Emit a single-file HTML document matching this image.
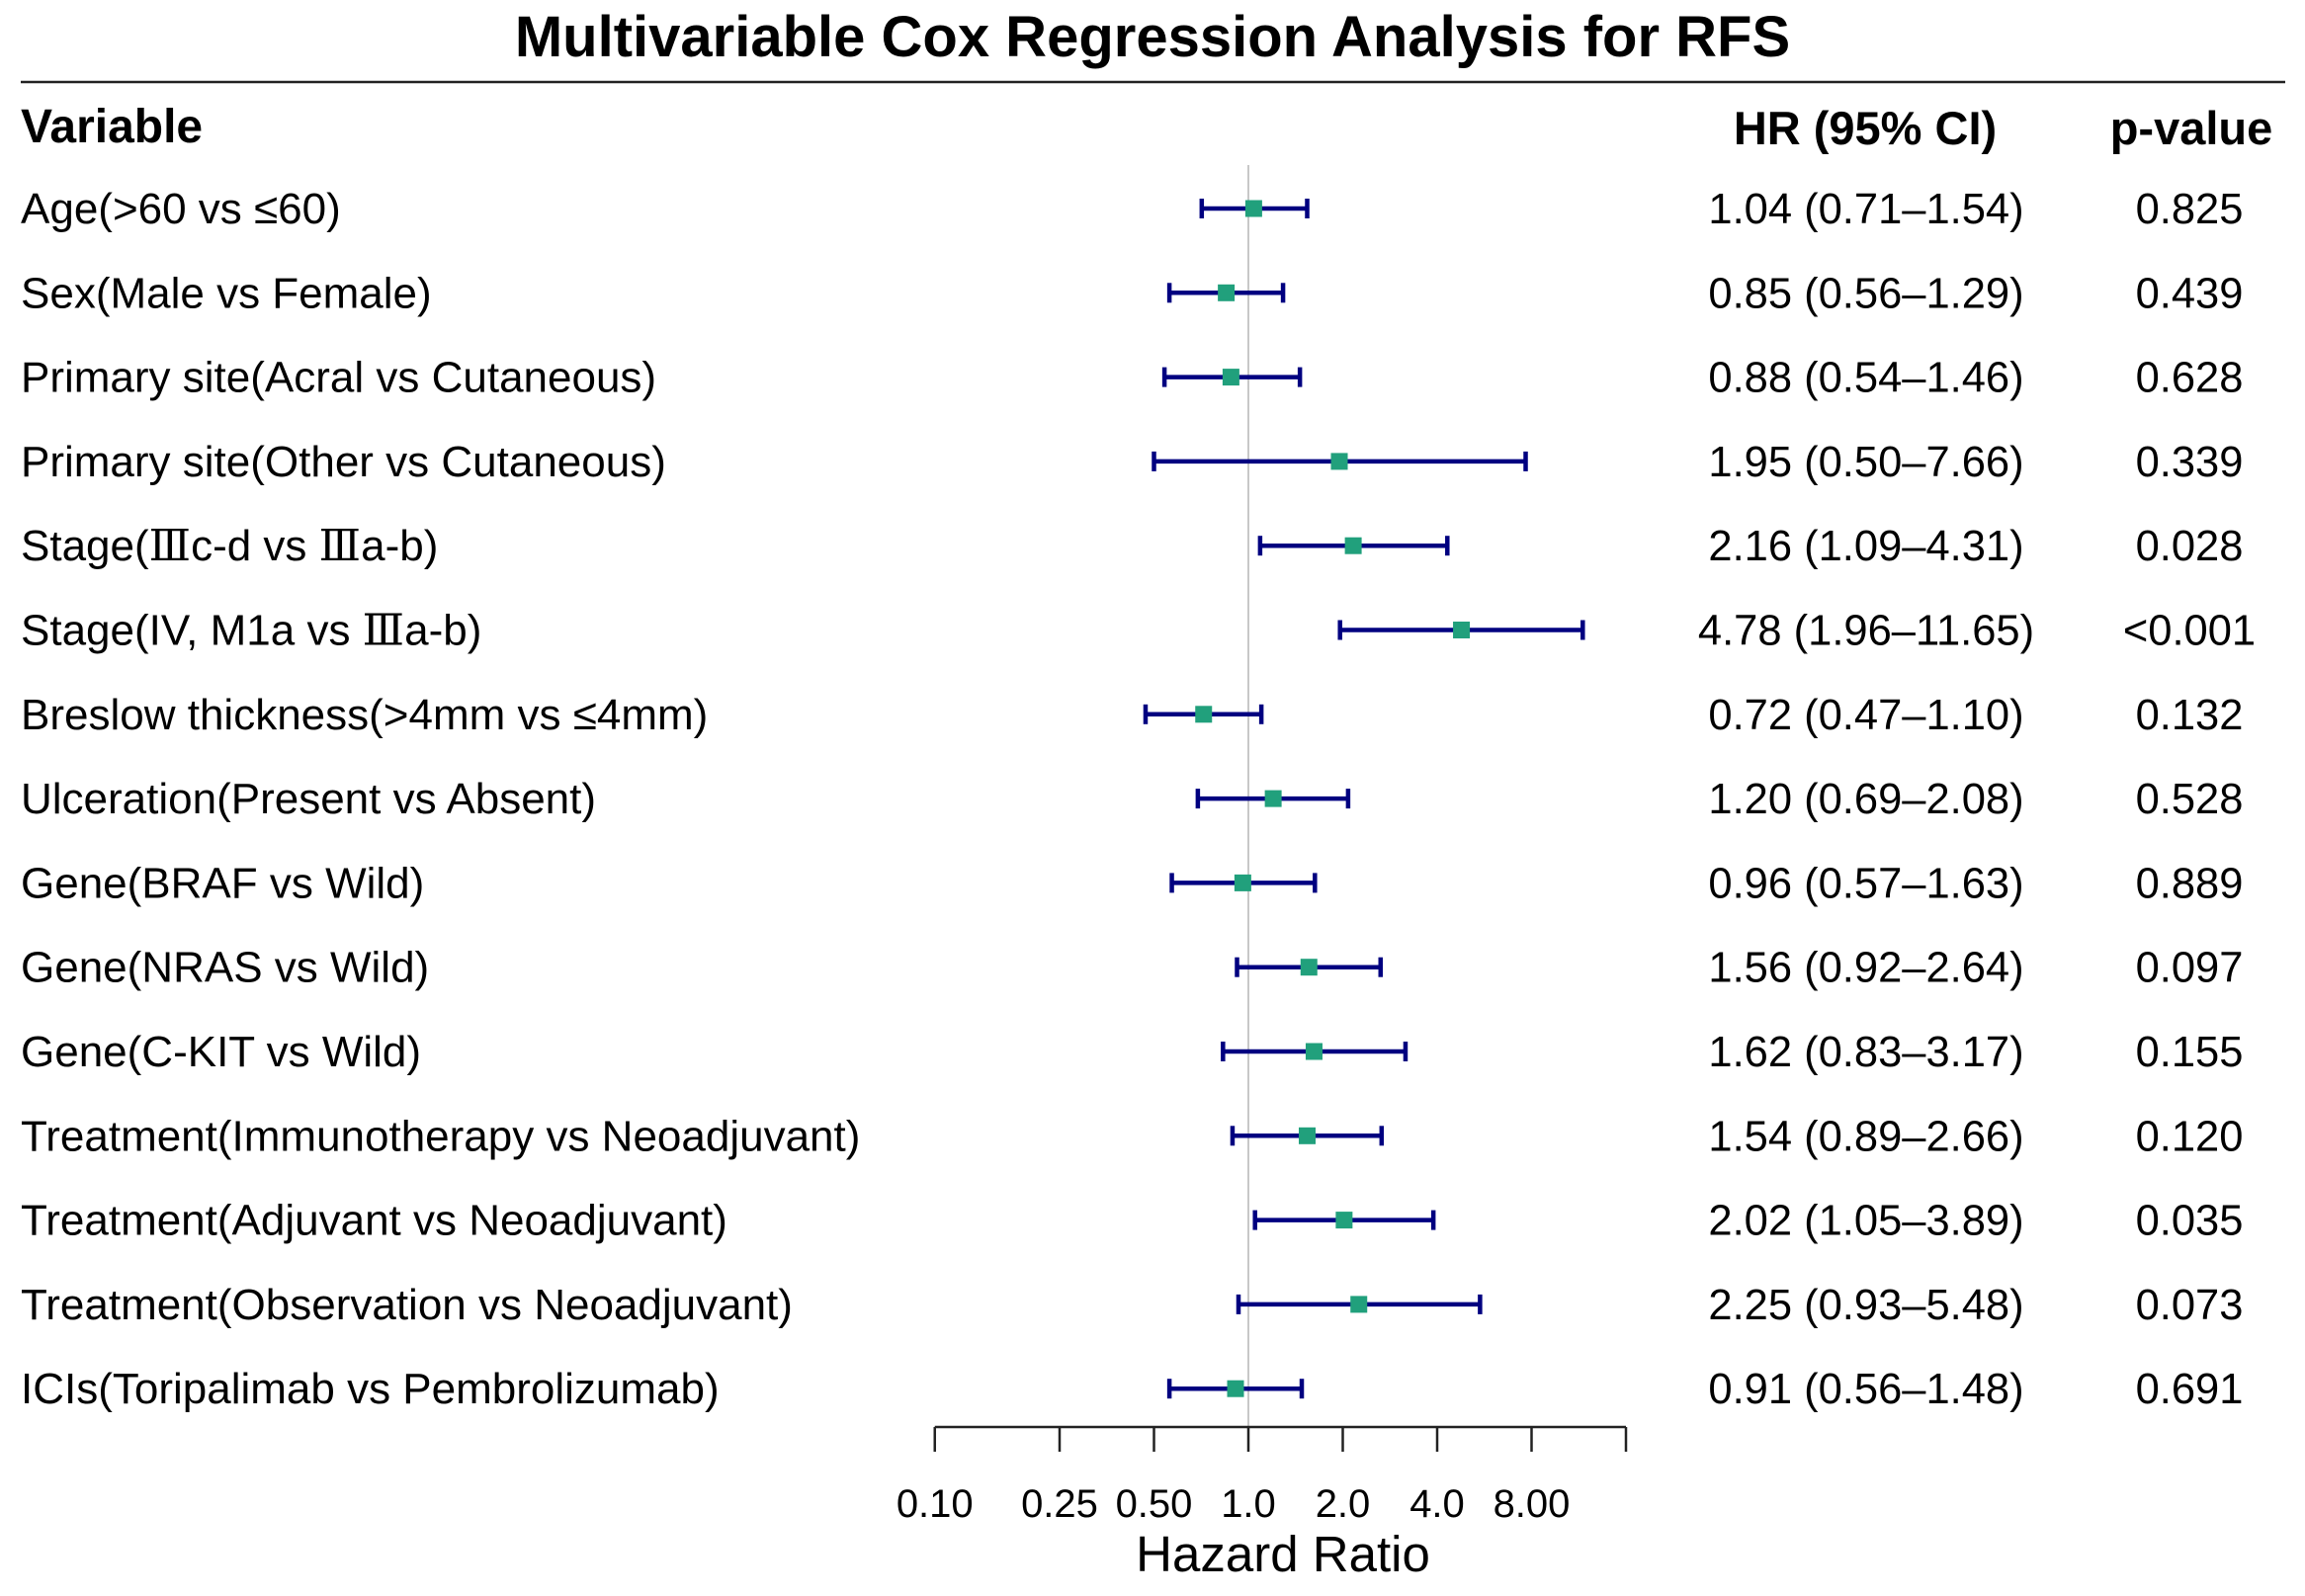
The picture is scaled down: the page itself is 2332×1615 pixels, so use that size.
<!DOCTYPE html>
<html><head><meta charset="utf-8"><style>
html,body{margin:0;padding:0;background:#fff;}
svg{display:block;font-family:"Liberation Sans",Arial,sans-serif;}
</style></head><body>
<svg id="chart" width="2332" height="1615" viewBox="0 0 2332 1615" xmlns="http://www.w3.org/2000/svg">
<text x="1166" y="57" text-anchor="middle" font-size="58" font-weight="bold">Multivariable Cox Regression Analysis for RFS</text>
<line x1="21" y1="83" x2="2312" y2="83" stroke="#222" stroke-width="2.5"/>
<text x="21" y="144" font-size="48" font-weight="bold">Variable</text>
<text x="1887" y="146" text-anchor="middle" font-size="47" font-weight="bold">HR (95% CI)</text>
<text x="2217" y="146" text-anchor="middle" font-size="47" font-weight="bold">p-value</text>
<g id="rows"></g>
<g id="axis"></g>
</svg>
<script>
const labels=["Age(>60 vs \u226460)","Sex(Male vs Female)","Primary site(Acral vs Cutaneous)","Primary site(Other vs Cutaneous)","Stage(\u2162c-d vs \u2162a-b)","Stage(IV, M1a vs \u2162a-b)","Breslow thickness(>4mm vs \u22644mm)","Ulceration(Present vs Absent)","Gene(BRAF vs Wild)","Gene(NRAS vs Wild)","Gene(C-KIT vs Wild)","Treatment(Immunotherapy vs Neoadjuvant)","Treatment(Adjuvant vs Neoadjuvant)","Treatment(Observation vs Neoadjuvant)","ICIs(Toripalimab vs Pembrolizumab)"];
const hr=[1.04,0.85,0.88,1.95,2.16,4.78,0.72,1.20,0.96,1.56,1.62,1.54,2.02,2.25,0.91];
const lower=[0.71,0.56,0.54,0.50,1.09,1.96,0.47,0.69,0.57,0.92,0.83,0.89,1.05,0.93,0.56];
const upper=[1.54,1.29,1.46,7.66,4.31,11.65,1.10,2.08,1.63,2.64,3.17,2.66,3.89,5.48,1.48];
const pvals=["0.825","0.439","0.628","0.339","0.028","<0.001","0.132","0.528","0.889","0.097","0.155","0.120","0.035","0.073","0.691"];
const tickVals=[0.10,0.25,0.50,1.0,2.0,4.0,8.0,16];
const tickLabels=["0.10","0.25","0.50","1.0","2.0","4.0","8.00",""];

const NS="http://www.w3.org/2000/svg";
const xScale=v=>1263+95.5*Math.log2(v);
const yScale=i=>211+i*85.3;
function mk(tag,attrs,parent,txt){const e=document.createElementNS(NS,tag);for(const k in attrs)e.setAttribute(k,attrs[k]);if(txt!==undefined)e.textContent=txt;parent.appendChild(e);return e;}
const rows=document.getElementById('rows');
const axis=document.getElementById('axis');
const refLine=mk('line',{x1:xScale(1),y1:167,x2:xScale(1),y2:1444,stroke:'#c8c8c8','stroke-width':2},rows);


labels.forEach((lab,i)=>{
  const y=yScale(i);
  const t=mk('text',{x:21,y:y+15,'font-size':44},rows);
  
  
  lab.split(/(\u2162)/).forEach(part=>{
    if(!part)return;
    mk('tspan',part==='\u2162'?{'font-family':'"Liberation Serif","DejaVu Serif",serif'}:{},t,part);
  });
  const h=mk('text',{x:1888,y:y+15,'font-size':43.5,'text-anchor':'middle'},rows,hr[i].toFixed(2)+" ("+lower[i].toFixed(2)+"\u2013"+upper[i].toFixed(2)+")");
  
  
  const p=mk('text',{x:2215,y:y+15,'font-size':43.5,'text-anchor':'middle'},rows,pvals[i]);
  
  
  const x1=xScale(lower[i]),x2=xScale(upper[i]);
  const ci=mk('line',{x1:x1,y1:y,x2:x2,y2:y,stroke:'#000080','stroke-width':4.5},rows);
  
  
  [x1,x2].forEach(xx=>{
    const c=mk('line',{x1:xx,y1:y-10,x2:xx,y2:y+10,stroke:'#000080','stroke-width':4.5},rows);
    
    
  });
  const m=mk('rect',{x:xScale(hr[i])-8.5,y:y-8.5,width:17,height:17,fill:'#21a07c'},rows);
  
  
});
const ax=mk('line',{x1:xScale(tickVals[0]),y1:1444,x2:xScale(tickVals[tickVals.length-1]),y2:1444,stroke:'#222','stroke-width':2.5},axis);


tickVals.forEach((v,i)=>{
  const tk=mk('line',{x1:xScale(v),y1:1444,x2:xScale(v),y2:1469,stroke:'#222','stroke-width':2.5},axis);
  
  
  if(tickLabels[i]){
    const tl=mk('text',{x:xScale(v),y:1535,'font-size':40,'text-anchor':'middle'},axis,tickLabels[i]);
    
    
  }
});
const at=mk('text',{x:1298,y:1590,'font-size':51,'text-anchor':'middle'},axis,'Hazard Ratio');


</script>
</body></html>
